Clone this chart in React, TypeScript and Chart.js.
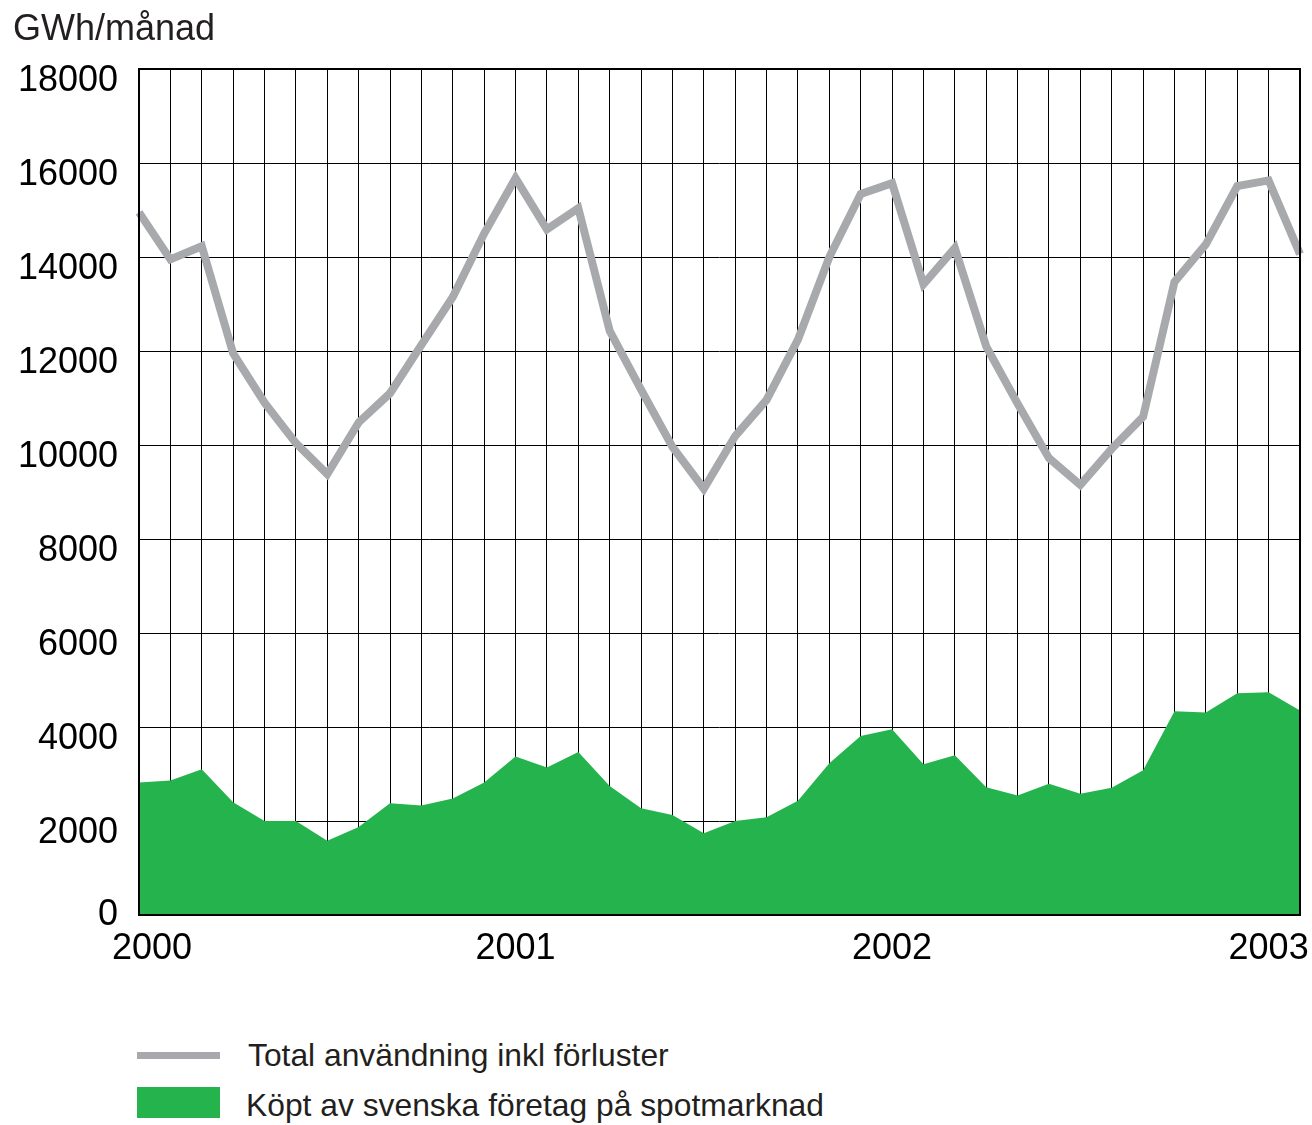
import React, { useEffect, useRef } from "react";
import { Chart, registerables } from "chart.js";

Chart.register(...registerables);

const months = [
  "2000-01", "2000-02", "2000-03", "2000-04", "2000-05", "2000-06",
  "2000-07", "2000-08", "2000-09", "2000-10", "2000-11", "2000-12",
  "2001-01", "2001-02", "2001-03", "2001-04", "2001-05", "2001-06",
  "2001-07", "2001-08", "2001-09", "2001-10", "2001-11", "2001-12",
  "2002-01", "2002-02", "2002-03", "2002-04", "2002-05", "2002-06",
  "2002-07", "2002-08", "2002-09", "2002-10", "2002-11", "2002-12",
  "2003-01", "2003-02",
];

const totalUse = [
  14950, 13950, 14230, 11950, 10900, 10040, 9380, 10480, 11100, 12130, 13150, 14500,
  15680, 14590, 15040, 12430, 11180, 9960, 9070, 10190, 10960, 12240, 14000, 15340,
  15570, 13420, 14190, 12100, 10880, 9720, 9150, 9920, 10600, 13470, 14270, 15510,
  15630, 14060,
];

const spotPurchased = [
  2820, 2860, 3100, 2400, 2000, 2000, 1580, 1870, 2380, 2330, 2480, 2820,
  3370, 3140, 3470, 2745, 2270, 2130, 1740, 2000, 2080, 2430, 3230, 3810,
  3950, 3210, 3400, 2720, 2540, 2790, 2580, 2710, 3080, 4335, 4310, 4720,
  4740, 4350,
];

const yearTickLabels = ["2000", "2001", "2002", "2003"];

const seriesNames = [
  "Total användning inkl förluster",
  "Köpt av svenska företag på spotmarknad",
];
const unitTitle = "GWh/månad";

const GRAY = "#a7a9ac";
const GREEN = "#25b34d";
const FONT = '"Liberation Sans", Arial, Helvetica, sans-serif';

function yearLabelAt(i: number): string {
  const m = months[i];
  if (m && m.endsWith("-01")) {
    const y = m.slice(0, 4);
    return yearTickLabels.includes(y) ? y : "";
  }
  return "";
}

const framePlugin = {
  id: "frame",
  afterDatasetsDraw(chart: any) {
    const { ctx, chartArea } = chart;
    ctx.save();
    ctx.strokeStyle = "#000";
    ctx.lineWidth = 2;
    ctx.strokeRect(
      chartArea.left,
      chartArea.top,
      chartArea.right - chartArea.left,
      chartArea.bottom - chartArea.top
    );
    ctx.restore();
  },
};

const axisLabelPlugin = {
  id: "axisLabels",
  afterDraw(chart: any) {
    const { ctx } = chart;
    const xs = chart.scales.x;
    const ys = chart.scales.y;
    ctx.save();
    ctx.fillStyle = "#000";
    ctx.font = `36px ${FONT}`;
    ctx.textBaseline = "alphabetic";
    ctx.textAlign = "right";
    ys.ticks.forEach((t: any) => {
      const py = ys.getPixelForValue(t.value);
      ctx.fillText(String(t.value), ys.right - 21, py + (t.value === 0 ? 10 : 22));
    });
    ctx.textAlign = "center";
    xs.ticks.forEach((_t: any, i: number) => {
      const lbl = yearLabelAt(i);
      if (!lbl) return;
      const px = xs.getPixelForTick(i);
      ctx.fillText(lbl, px + (i === 0 ? 13 : 0), xs.top + 44);
    });
    ctx.restore();
  },
};

export default function App() {
  const canvasRef = useRef<HTMLCanvasElement>(null);

  useEffect(() => {
    if (!canvasRef.current) return;
    const chart = new Chart(canvasRef.current, {
      type: "line",
      data: {
        labels: months,
        datasets: [
          {
            label: seriesNames[0],
            data: totalUse,
            borderColor: GRAY,
            borderWidth: 8,
            borderJoinStyle: "miter",
            borderCapStyle: "butt",
            pointRadius: 0,
            fill: false,
            tension: 0,
          },
          {
            label: seriesNames[1],
            data: spotPurchased,
            borderWidth: 0,
            borderColor: GREEN,
            backgroundColor: GREEN,
            pointRadius: 0,
            fill: "origin",
            tension: 0,
          },
        ],
      },
      options: {
        animation: false,
        responsive: false,
        maintainAspectRatio: false,
        layout: { padding: { top: 69, right: 12, bottom: 0, left: 0 } },
        plugins: {
          legend: { display: false },
          title: { display: false },
          tooltip: { enabled: false },
        },
        scales: {
          x: {
            type: "category",
            offset: false,
            border: { display: false },
            grid: { color: "#000", lineWidth: 1, drawTicks: false },
            ticks: {
              display: false,
              autoSkip: false,
              maxRotation: 0,
              minRotation: 0,
            },
            afterFit: (scale: any) => {
              scale.height = 85;
            },
          },
          y: {
            min: 0,
            max: 18000,
            border: { display: false },
            grid: { color: "#000", lineWidth: 1, drawTicks: false },
            ticks: {
              display: false,
              stepSize: 2000,
            },
            afterFit: (scale: any) => {
              scale.width = 139;
            },
          },
        },
      },
      plugins: [framePlugin, axisLabelPlugin],
    } as any);
    return () => chart.destroy();
  }, []);

  const textStyle: React.CSSProperties = {
    position: "absolute",
    fontFamily: FONT,
    color: "#231f20",
    whiteSpace: "nowrap",
    lineHeight: 1,
  };

  return (
    <div
      style={{
        position: "absolute",
        left: 0,
        top: 0,
        width: 1312,
        height: 1125,
        background: "#fff",
        overflow: "hidden",
      }}
    >
      <canvas
        ref={canvasRef}
        width={1312}
        height={1000}
        style={{ position: "absolute", left: 0, top: 0, width: 1312, height: 1000 }}
      />
      <div style={{ ...textStyle, left: 13, top: 10, fontSize: 36 }}>{unitTitle}</div>
      <div
        style={{
          position: "absolute",
          left: 137,
          top: 1052,
          width: 83,
          height: 7,
          background: GRAY,
        }}
      />
      <div style={{ ...textStyle, left: 248, top: 1040, fontSize: 31.8 }}>{seriesNames[0]}</div>
      <div
        style={{
          position: "absolute",
          left: 137,
          top: 1087,
          width: 83,
          height: 31,
          background: GREEN,
        }}
      />
      <div style={{ ...textStyle, left: 246, top: 1090, fontSize: 31.8 }}>{seriesNames[1]}</div>
    </div>
  );
}
